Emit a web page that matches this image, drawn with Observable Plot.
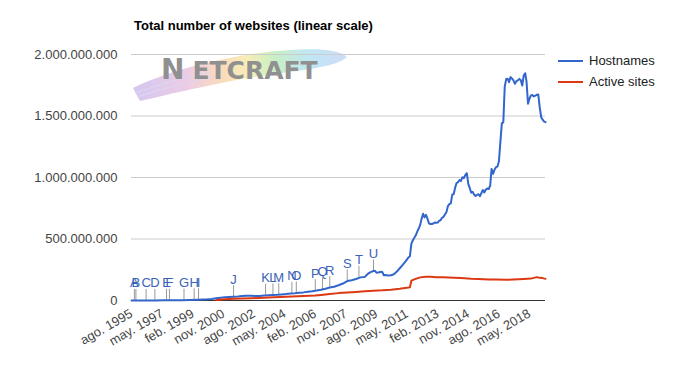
<!DOCTYPE html>
<html><head><meta charset="utf-8">
<script src="https://cdn.jsdelivr.net/npm/d3@7"></script>
<script src="https://cdn.jsdelivr.net/npm/@observablehq/plot@0.6"></script>
<style>
html,body{margin:0;padding:0;background:#fff;}
#wrap{position:relative;width:674px;height:366px;font-family:"Liberation Sans",Arial,sans-serif;}
#chart svg{display:block;}
#title{position:absolute;left:134px;top:18px;font-weight:bold;font-size:13px;color:#000;white-space:nowrap;}
.leg{position:absolute;left:558px;font-size:13px;color:#222;white-space:nowrap;display:flex;align-items:center;height:15px;}
.sw{display:inline-block;width:25px;height:2px;margin-right:6px;}
</style></head>
<body><div id="wrap"><div id="chart"></div><div id="title">Total number of websites (linear scale)</div><div id="legend"></div></div>
<script>
// ---- Data (values in millions) ----
const seriesNames = ["Hostnames", "Active sites"];
const seriesColors = ["#3366cc", "#dc3912"];

const hostDates = ["1995-08","1995-12","1996-06","1996-12","1997-06","1997-12","1998-06","1998-12","1999-06","1999-12",
"2000-03","2000-06","2000-09","2000-12","2001-03","2001-06","2001-09","2001-12","2002-03","2002-06","2002-09","2002-12",
"2003-03","2003-06","2003-09","2003-12","2004-03","2004-06","2004-09","2004-12","2005-03","2005-06","2005-09","2005-12",
"2006-03","2006-06","2006-09","2006-12","2007-03","2007-06","2007-09","2007-12","2008-03","2008-06","2008-09","2008-12",
"2009-02","2009-04","2009-06","2009-07","2009-08","2009-09","2009-10","2009-11","2009-12","2010-01","2010-02","2010-04",
"2010-06","2010-08","2010-10","2010-12","2011-02","2011-04","2011-06","2011-07","2011-08","2011-09","2011-10","2011-11",
"2011-12","2012-01","2012-02","2012-03","2012-04","2012-05","2012-06","2012-07","2012-08","2012-09","2012-10","2012-11",
"2012-12","2013-01","2013-02","2013-03","2013-04","2013-05","2013-06","2013-07","2013-08","2013-09","2013-10","2013-11",
"2013-12","2014-01","2014-02","2014-03","2014-04","2014-05","2014-06","2014-07","2014-08","2014-09","2014-10","2014-11",
"2014-12","2015-01","2015-02","2015-03","2015-04","2015-05","2015-06","2015-07","2015-08","2015-09","2015-10","2015-11",
"2015-12","2016-01","2016-02","2016-03","2016-04","2016-05","2016-06","2016-07","2016-08","2016-09","2016-10","2016-11",
"2016-12","2017-01","2017-02","2017-03","2017-04","2017-05","2017-06","2017-07","2017-08","2017-09","2017-10","2017-11",
"2017-12","2018-01","2018-02","2018-03","2018-04","2018-05","2018-06","2018-07","2018-08","2018-09","2018-10","2018-11",
"2018-12","2019-01","2019-02","2019-03","2019-04"];
const hostValues = [0.019,0.07,0.23,0.6,1.2,1.7,2.6,3.7,6.2,9.5,
13,18,22,26,29,31,32,36,38,38,36,36,
40,42,44,46,49,52,56,59,63,66,71,75,
81,88,96,105,112,124,138,158,165,175,188,192,
216,231,240,242,226,227,230,233,232,206,207,204,
205,213,235,262,290,318,350,360,463,490,510,530,
560,585,615,665,705,676,697,666,628,622,622,626,
634,632,634,648,652,672,680,700,718,767,784,790,
861,866,920,955,962,980,972,1002,995,1022,1035,948,
915,876,883,862,850,858,864,848,873,898,878,902,
910,906,935,1070,1030,1063,1084,1088,1130,1290,1440,1450,
1740,1800,1802,1775,1816,1805,1789,1762,1783,1790,1802,1790,
1748,1829,1848,1780,1600,1640,1667,1670,1659,1665,1672,1675,
1572,1490,1470,1455,1450];

const activeDates = ["2000-06","2000-12","2001-06","2002-06","2003-06","2004-06","2005-06","2006-02","2006-06","2006-12",
"2007-06","2007-12","2008-06","2008-12","2009-06","2009-12","2010-06","2010-12","2011-06","2011-07","2011-08","2011-10",
"2011-12","2012-02","2012-06","2012-09","2013-01","2013-06","2014-01","2014-06","2015-01","2015-06","2016-01","2016-06",
"2017-01","2017-06","2018-01","2018-06","2018-10","2018-12","2019-02","2019-04"];
const activeValues = [5,10,14,18,24,31,36,40,45,52,
60,66,70,75,80,83,88,95,105,108,162,172,
180,188,193,193,190,190,185,182,177,175,170,171,
168,170,174,178,190,184,182,176];

const annLabels = ["A","B","C","D","E","F","G","H","I","J","K","L","M","N","O","P","Q","R","S","T","U"];
const annDates = ["1995-10","1995-11","1996-06","1996-12","1997-08","1997-10","1998-08","1999-03","1999-06","2001-06",
"2003-04","2003-09","2004-01","2004-10","2005-01","2006-02","2006-07","2006-12","2007-12","2008-08","2009-06"];
const annValues = [0.05,0.06,0.23,0.6,1.4,1.6,2.9,5,6.2,31,43,45,47,58,61,80,90,104,158,188,240];

const tickDates = ["1995-08","1997-05","1999-02","2000-11","2002-08","2004-05","2006-02","2007-11","2009-08","2011-05","2013-02","2014-11","2016-08","2018-05"];
const tickLabels = ["ago. 1995","may. 1997","feb. 1999","nov. 2000","ago. 2002","may. 2004","feb. 2006","nov. 2007","ago. 2009","may. 2011","feb. 2013","nov. 2014","ago. 2016","may. 2018"];
const yTicks = [0, 500000000, 1000000000, 1500000000, 2000000000];

// ---- Build ----
const parse = d3.utcParse("%Y-%m");
const host = hostDates.map((d, i) => ({date: parse(d), value: hostValues[i] * 1e6}));
const active = activeDates.map((d, i) => ({date: parse(d), value: activeValues[i] * 1e6}));
const ann = annDates.map((d, i) => ({date: parse(d), value: annValues[i] * 1e6, label: annLabels[i]}));
const tickMap = new Map(tickDates.map((d, i) => [+parse(d), tickLabels[i]]));
const fmtY = d => d3.format(",")(d).replace(/,/g, ".");

const plot = Plot.plot({
  width: 674, height: 366,
  marginLeft: 131, marginRight: 129, marginTop: 54, marginBottom: 66,
  style: {fontFamily: "'Liberation Sans', Arial, sans-serif", fontSize: "13px", color: "#444", background: "transparent"},
  x: {type: "utc", domain: [parse(hostDates[0]), parse(hostDates[hostDates.length - 1])],
      ticks: tickDates.map(parse), tickFormat: d => tickMap.get(+d), tickRotate: -30, tickSize: 0, tickPadding: 12, label: null},
  y: {domain: [0, 2e9], ticks: yTicks, tickFormat: fmtY, tickSize: 0, tickPadding: 14, label: null},
  marks: [
    Plot.ruleY(yTicks.filter(d => d > 0), {stroke: "#cccccc"}),
    Plot.ruleX(ann, {x: "date", y1: "value", y2: "value", insetTop: -11, stroke: "#999999"}),
    Plot.text(ann, {x: "date", y: "value", text: "label", dy: -13, lineAnchor: "bottom", fill: "#3a62b8", fontSize: 13}),
    Plot.ruleY([0], {stroke: "#333333"}),
    Plot.line(host, {x: "date", y: "value", stroke: seriesColors[0], strokeWidth: 2}),
    Plot.line(active, {x: "date", y: "value", stroke: seriesColors[1], strokeWidth: 2})
  ]
});

// Netcraft logo watermark (decoration behind the chart)
const svg = d3.select(plot);
const defs = svg.insert("defs", "g");
const grad = defs.append("linearGradient").attr("id", "rainbow").attr("x1", "0").attr("x2", "1").attr("y1", "0").attr("y2", "0");
[["0%","#c2b3ea"],["25%","#e6b9dc"],["42%","#f8cfa0"],["54%","#f4e89c"],["66%","#b5e9ae"],["82%","#a8def0"],["100%","#bccff4"]]
  .forEach(([o, c]) => grad.append("stop").attr("offset", o).attr("stop-color", c));
const logo = svg.insert("g", "g").attr("opacity", 0.72);
logo.append("path")
  .attr("d", "M133,88 C170,70 230,54 290,50 C320,48 340,50 347,57 C335,68 300,70 260,76 C215,83 170,94 140,101 Z")
  .attr("fill", "url(#rainbow)");
logo.append("path")
  .attr("d", "M135,93 C160,84 185,77 210,72 M137,97 C162,89 190,81 218,76")
  .attr("fill", "none").attr("stroke", "#d2c6f0").attr("stroke-width", 1.2);
logo.append("text")
  .attr("x", 161).attr("y", 78.5).attr("text-anchor", "start")
  .attr("font-family", "'DejaVu Sans', sans-serif").attr("font-weight", "bold").attr("font-size", 25)
  .attr("fill", "#666666")
  .html('<tspan font-size="28">N</tspan><tspan dx="8">ETCRAFT</tspan>');

document.getElementById("chart").appendChild(plot);

// Legend
const legend = document.getElementById("legend");
seriesNames.forEach((name, i) => {
  const row = document.createElement("div");
  row.className = "leg";
  row.style.top = (53 + i * 21) + "px";
  row.innerHTML = `<span class="sw" style="background:${seriesColors[i]}"></span>${name}`;
  legend.appendChild(row);
});
</script></body></html>
